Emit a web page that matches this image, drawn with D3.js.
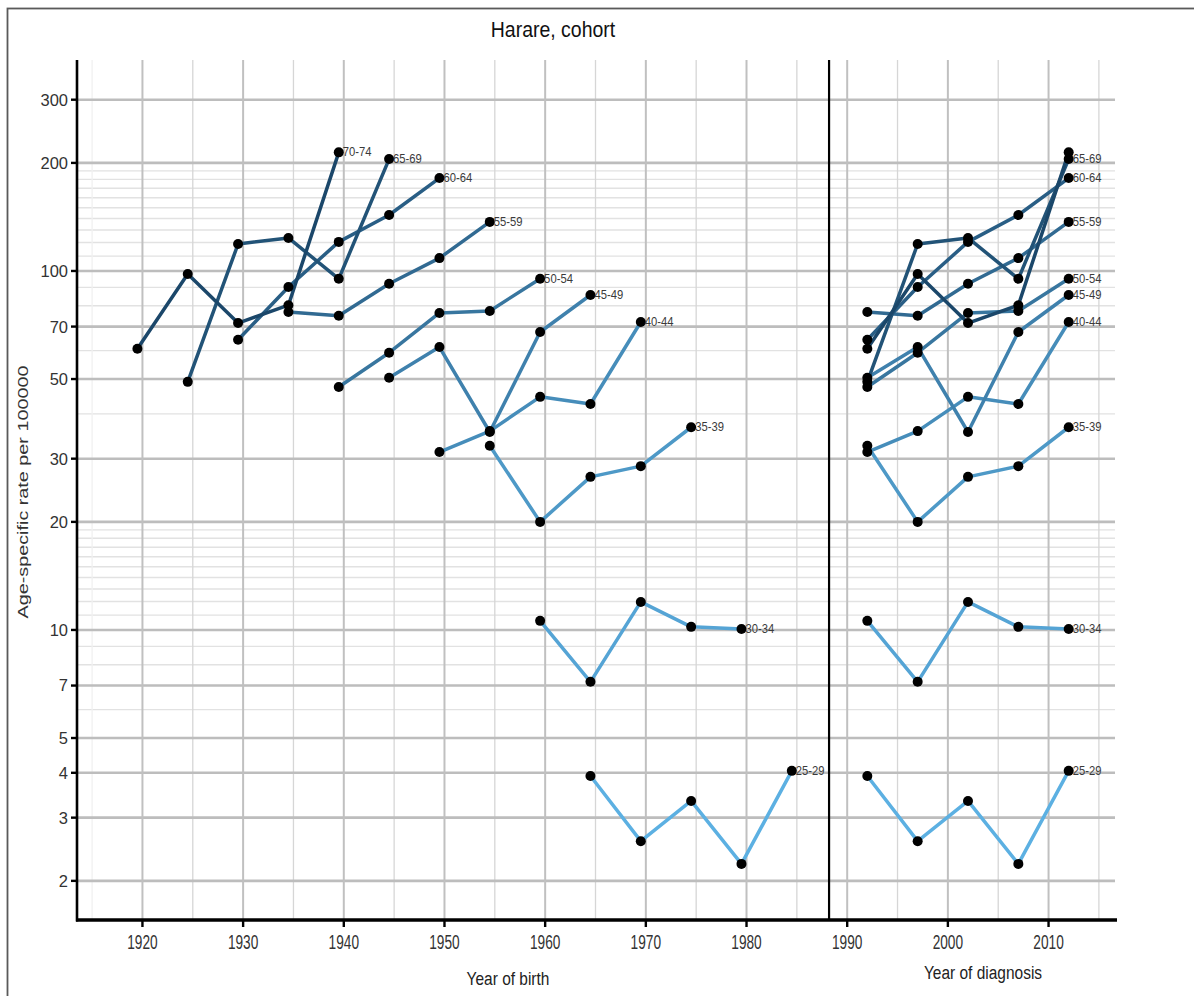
<!DOCTYPE html>
<html>
<head>
<meta charset="utf-8">
<script src="https://cdn.jsdelivr.net/npm/d3@7/dist/d3.min.js"></script>
<style>
  html, body { margin: 0; padding: 0; background: #fff; }
  svg { display: block; }
  text { font-family: "Liberation Sans", Arial, sans-serif; }
</style>
</head>
<body>
<svg id="chart" width="1194" height="996"></svg>
<script>
// Age groups and the midpoint age used to turn a diagnosis period into a birth cohort
const ageGroups = ["25-29", "30-34", "35-39", "40-44", "45-49", "50-54", "55-59", "60-64", "65-69", "70-74"];
const ageMidpoints = [27.5, 32.5, 37.5, 42.5, 47.5, 52.5, 57.5, 62.5, 67.5, 72.5];
const periods = [1992, 1997, 2002, 2007, 2012];

// Age-specific rates per 100000, one row per age group, one value per period
const rate2529 = [3.92, 2.58, 3.34, 2.23, 4.05];
const rate3034 = [10.6, 7.17, 11.97, 10.2, 10.06];
const rate3539 = [32.6, 20.0, 26.7, 28.6, 36.7];
const rate4044 = [31.3, 35.8, 44.6, 42.6, 72.1];
const rate4549 = [50.4, 61.4, 35.6, 67.6, 85.7];
const rate5054 = [47.5, 59.2, 76.4, 77.4, 95.1];
const rate5559 = [76.9, 75.0, 92.1, 108.6, 137];
const rate6064 = [64.3, 90.2, 120.5, 143.2, 181.5];
const rate6569 = [49.1, 118.9, 123.6, 95.1, 205];
const rate7074 = [60.7, 98.1, 71.6, 80.3, 214];
const rates = [rate2529, rate3034, rate3539, rate4044, rate4549, rate5054, rate5559, rate6064, rate6569, rate7074];

// Axis ticks
const yMajorTicks = [2, 3, 4, 5, 7, 10, 20, 30, 50, 70, 100, 200, 300];
const yMinorTicks = [6, 8, 9, 11, 12, 13, 14, 15, 16, 17, 18, 19, 40, 60, 80, 90,
                     110, 120, 130, 140, 150, 160, 170, 180, 190];
const xMajorTicks = [1920, 1930, 1940, 1950, 1960, 1970, 1980, 1990, 2000, 2010];
const xMinorTicks = [1915, 1925, 1935, 1945, 1955, 1965, 1975, 1985, 1995, 2005, 2015];
const panelBreakYear = 1988.2;

const svg = d3.select("#chart");
const plotLeft = 77, plotRight = 1115, plotTop = 60, plotBottom = 920;

const x = d3.scaleLinear().domain([1913.5, 2016.6]).range([plotLeft, plotRight]);
const y = d3.scaleLog().domain([1.556, 387]).range([plotBottom, plotTop]);
const colour = d3.scaleLinear().domain([0, ageGroups.length - 1])
  .range(["#5cb0e2", "#1b476a"]).interpolate(d3.interpolateRgb);

// outer frame
svg.append("rect").attr("x", 7.5).attr("y", 8.5).attr("width", 1230).attr("height", 1030)
  .attr("fill", "none").attr("stroke", "#5a5a5a").attr("stroke-width", 1.8);

// gridlines
const grid = svg.append("g");
grid.selectAll(".ymin").data(yMinorTicks).join("line").attr("class", "ymin")
  .attr("x1", plotLeft).attr("x2", plotRight).attr("y1", d => y(d)).attr("y2", d => y(d))
  .attr("stroke", "#e2e2e2").attr("stroke-width", 1.4);
grid.selectAll(".xmin").data(xMinorTicks).join("line").attr("class", "xmin")
  .attr("x1", d => x(d)).attr("x2", d => x(d)).attr("y1", plotTop).attr("y2", plotBottom)
  .attr("stroke", d => d === 1915 ? "#f0f0f0" : "#d6d6d6").attr("stroke-width", 1.3);
grid.selectAll(".ymaj").data(yMajorTicks).join("line").attr("class", "ymaj")
  .attr("x1", plotLeft).attr("x2", plotRight).attr("y1", d => y(d)).attr("y2", d => y(d))
  .attr("stroke", "#bdbdbd").attr("stroke-width", 2.6);
grid.selectAll(".xmaj").data(xMajorTicks).join("line").attr("class", "xmaj")
  .attr("x1", d => x(d)).attr("x2", d => x(d)).attr("y1", plotTop).attr("y2", plotBottom)
  .attr("stroke", "#c0c0c0").attr("stroke-width", 2);

// divider between cohort panel and period panel
svg.append("line").attr("x1", x(panelBreakYear)).attr("x2", x(panelBreakYear))
  .attr("y1", plotTop).attr("y2", plotBottom).attr("stroke", "#000").attr("stroke-width", 2.2);

// series: cohort (birth year) and period (diagnosis year)
const series = ageGroups.map((g, i) => ({
  group: g,
  idx: i,
  cohort: periods.map((p, j) => ({ year: p - ageMidpoints[i], value: rates[i][j] })),
  period: periods.map((p, j) => ({ year: p, value: rates[i][j] }))
}));

const line = d3.line().x(d => x(d.year)).y(d => y(d.value));

const gLines = svg.append("g");
["cohort", "period"].forEach(key => {
  gLines.selectAll(".l-" + key).data(series).join("path").attr("class", "l-" + key)
    .attr("d", s => line(s[key]))
    .attr("fill", "none")
    .attr("stroke", s => colour(s.idx))
    .attr("stroke-width", 3.5)
    .attr("stroke-linejoin", "round");
});
const gDots = svg.append("g");
["cohort", "period"].forEach(key => {
  series.forEach(s => {
    gDots.append("g").selectAll("circle").data(s[key]).join("circle")
      .attr("cx", d => x(d.year)).attr("cy", d => y(d.value)).attr("r", 5)
      .attr("fill", "#000");
  });
});

// end labels
const labels = svg.append("g").attr("font-size", 12.5).attr("fill", "#3a3a3a");
series.forEach(s => {
  const c = s.cohort[s.cohort.length - 1];
  labels.append("text")
    .attr("transform", `translate(${x(c.year) + 4},${y(c.value) + 4}) scale(0.9,1.05)`)
    .text(s.group);
  if (s.group !== "70-74") {
    const p = s.period[s.period.length - 1];
    labels.append("text")
      .attr("transform", `translate(${x(p.year) + 4},${y(p.value) + 4}) scale(0.9,1.05)`)
      .text(s.group);
  }
});

// axes
svg.append("line").attr("x1", plotLeft).attr("x2", plotLeft).attr("y1", plotTop).attr("y2", plotBottom + 1.5)
  .attr("stroke", "#000").attr("stroke-width", 2.6);
svg.append("line").attr("x1", plotLeft - 1).attr("x2", plotRight + 2).attr("y1", plotBottom).attr("y2", plotBottom)
  .attr("stroke", "#000").attr("stroke-width", 3.4);

const yAxis = svg.append("g");
yAxis.selectAll("line").data(yMajorTicks).join("line")
  .attr("x1", plotLeft - 6).attr("x2", plotLeft).attr("y1", d => y(d)).attr("y2", d => y(d))
  .attr("stroke", "#000").attr("stroke-width", 2.4);
yAxis.selectAll("text").data(yMajorTicks).join("text")
  .attr("x", plotLeft - 9).attr("y", d => y(d)).attr("dy", "0.36em")
  .attr("text-anchor", "end").attr("font-size", 16.5).attr("fill", "#333")
  .text(d => d);

const xAxis = svg.append("g");
xAxis.selectAll("line").data(xMajorTicks).join("line")
  .attr("x1", d => x(d)).attr("x2", d => x(d)).attr("y1", plotBottom).attr("y2", plotBottom + 7)
  .attr("stroke", "#000").attr("stroke-width", 2.4);
xAxis.selectAll("text").data(xMajorTicks).join("text")
  .attr("transform", d => `translate(${x(d)},${plotBottom + 29}) scale(0.74,1.1)`)
  .attr("text-anchor", "middle").attr("font-size", 18.5).attr("fill", "#333")
  .text(d => d);

// titles
svg.append("text")
  .attr("transform", "translate(553,37) scale(0.95,1.05)")
  .attr("text-anchor", "middle").attr("font-size", 20.5).attr("fill", "#111")
  .text("Harare, cohort");

svg.append("text")
  .attr("transform", "translate(28,492) rotate(-90) scale(1.32,1)")
  .attr("text-anchor", "middle").attr("font-size", 15).attr("fill", "#333")
  .text("Age-specific rate per 100000");

svg.append("text")
  .attr("transform", "translate(508,985) scale(0.86,1.05)")
  .attr("text-anchor", "middle").attr("font-size", 18).attr("fill", "#222")
  .text("Year of birth");

svg.append("text")
  .attr("transform", "translate(983,979) scale(0.86,1.05)")
  .attr("text-anchor", "middle").attr("font-size", 18).attr("fill", "#222")
  .text("Year of diagnosis");
</script>
</body>
</html>
